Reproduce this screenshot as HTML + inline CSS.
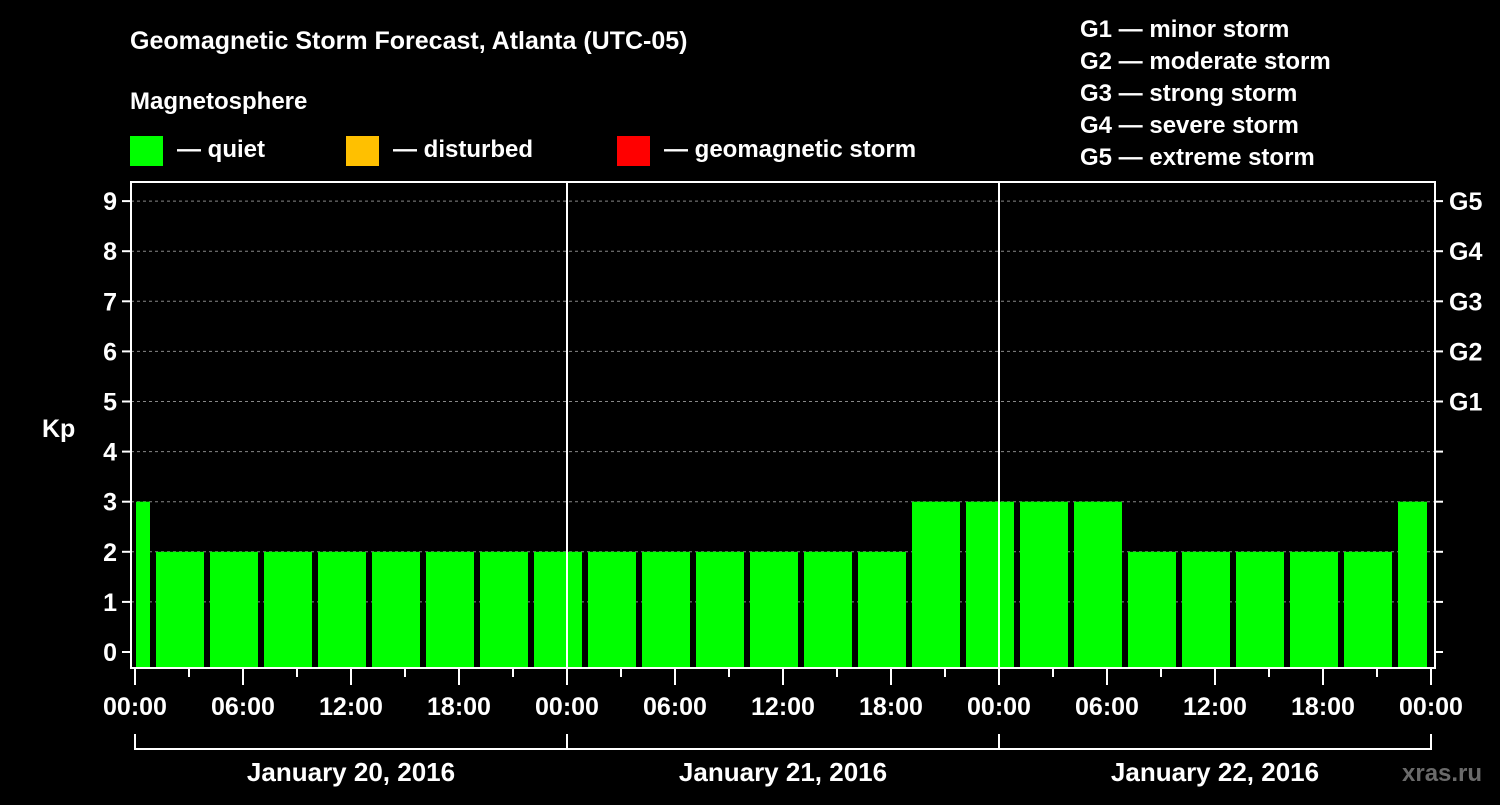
<!DOCTYPE html>
<html><head><meta charset="utf-8"><style>
body{margin:0;background:#000;width:1500px;height:800px;overflow:hidden}
svg text{font-family:"Liberation Sans",Arial,sans-serif;font-weight:bold;fill:#fff}
</style></head><body>
<svg id="c" width="1500" height="800">
<text x="130" y="49" font-size="25">Geomagnetic Storm Forecast, Atlanta (UTC-05)</text>
<text x="130" y="109" font-size="24">Magnetosphere</text>
<g><rect x="130" y="136" width="33" height="30" fill="#00ff00"/><text x="177" y="157" font-size="24">— quiet</text></g>
<g><rect x="346" y="136" width="33" height="30" fill="#ffc000"/><text x="393" y="157" font-size="24">— disturbed</text></g>
<g><rect x="617" y="136" width="33" height="30" fill="#ff0000"/><text x="664" y="157" font-size="24">— geomagnetic storm</text></g>
<g font-size="24">
<text x="1080" y="37">G1 — minor storm</text>
<text x="1080" y="69">G2 — moderate storm</text>
<text x="1080" y="101">G3 — strong storm</text>
<text x="1080" y="133">G4 — severe storm</text>
<text x="1080" y="165">G5 — extreme storm</text>
</g>
<text x="42" y="437" font-size="25">Kp</text>
<text x="1402" y="781" font-size="24" fill="#777" style="fill:#6a6a6a">xras.ru</text>
<g id="g"></g>
</svg>
<script>
const kpValues=[3,2,2,2,2,2,2,2,2,2,2,2,2,2,2,3,3,3,3,2,2,2,2,2,3];
const binStartHours=[-2,1,4,7,10,13,16,19,22,25,28,31,34,37,40,43,46,49,52,55,58,61,64,67,70];
const yTicks=[0,1,2,3,4,5,6,7,8,9];
const gLabels=["G1","G2","G3","G4","G5"];
const gLevels=[5,6,7,8,9];
const xTickLabels=["00:00","06:00","12:00","18:00","00:00","06:00","12:00","18:00","00:00","06:00","12:00","18:00","00:00"];
const dayLabels=["January 20, 2016","January 21, 2016","January 22, 2016"];
const X0=135,PH=18,Y0=652,PU=50.1,L=131,R=1435,T=182,B=668;
const x=h=>X0+h*PH, y=v=>Y0-v*PU;
const g=document.getElementById('g');NS='http://www.w3.org/2000/svg';
function mk(t,a){const e=document.createElementNS(NS,t);for(const k in a)e.setAttribute(k,a[k]);g.appendChild(e);return e;}
yTicks.forEach(v=>{if(v>0){const e=mk('line',{x1:L,x2:R,y1:y(v),y2:y(v),stroke:'#888','stroke-dasharray':'3,3'});

}
const t=mk('line',{x1:L-9,x2:L,y1:y(v),y2:y(v),stroke:'#fff','stroke-width':2});


const r=mk('line',{x1:R,x2:R+8,y1:y(v),y2:y(v),stroke:'#fff','stroke-width':2});


const l=mk('text',{x:L-14,y:y(v)+9,'font-size':25,'text-anchor':'end'});l.textContent=v;

});
gLabels.forEach((s,i)=>{const l=mk('text',{x:1449,y:y(gLevels[i])+9,'font-size':25});l.textContent=s;

});
kpValues.forEach((v,i)=>{let a=x(binStartHours[i])+3,b=x(binStartHours[i]+3)-3;a=Math.max(a,X0+1);b=Math.min(b,x(72)-4);
const c=v>=5?'#ff0000':(v>=4?'#ffc000':'#00ff00');
const e=mk('rect',{x:a,y:y(v),width:b-a,height:B-1-y(v),fill:c});

});
[24,48].forEach(h=>{const e=mk('line',{x1:x(h),x2:x(h),y1:T,y2:B,stroke:'#fff','stroke-width':2});

});
const f=mk('rect',{x:L,y:T,width:R-L,height:B-T,fill:'none',stroke:'#fff','stroke-width':2});


for(let h=0;h<=72;h+=3){const m=h%6==0;const e=mk('line',{x1:x(h),x2:x(h),y1:B,y2:B+(m?17:9),stroke:'#fff','stroke-width':2});

}
xTickLabels.forEach((s,i)=>{const l=mk('text',{x:x(i*6),y:715,'font-size':25,'text-anchor':'middle'});l.textContent=s;

});
const br=mk('line',{x1:x(0),x2:x(72),y1:749,y2:749,stroke:'#fff','stroke-width':2});


[0,24,48,72].forEach(h=>{const e=mk('line',{x1:x(h),x2:x(h),y1:734,y2:750,stroke:'#fff','stroke-width':2});

});
dayLabels.forEach((s,i)=>{const l=mk('text',{x:x(i*24+12),y:781,'font-size':26,'text-anchor':'middle'});l.textContent=s;

});
</script>
</body></html>
